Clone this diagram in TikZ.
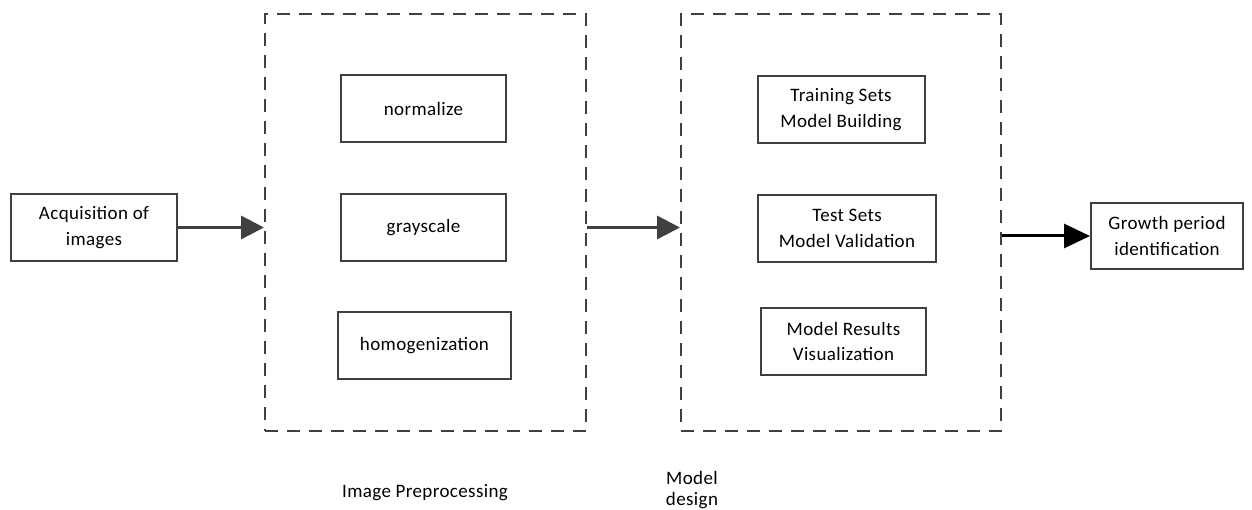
\documentclass[tikz,border=0pt]{standalone}
\usepackage{fontspec}
\setmainfont[LetterSpace=2]{Carlito}
\usetikzlibrary{arrows.meta}
\definecolor{lc}{HTML}{404040}
\begin{document}
\begin{tikzpicture}[x=1pt,y=-1pt,
  box/.style={draw=lc,line width=2pt,rectangle,align=center,inner sep=0pt,font=\fontsize{19}{25.5}\selectfont,text=black},
  group/.style={draw=lc,line width=2pt,dash pattern=on 13pt off 9pt,rectangle,inner sep=0pt},
  flow/.style={draw=lc,line width=3.5pt,-{Triangle[length=23pt,width=23pt]}},
  flowb/.style={draw=black,line width=3pt,-{Triangle[length=26pt,width=24pt]}},
  lab/.style={align=center,font=\fontsize{19}{21}\selectfont,text=black}]
\useasboundingbox (0,0) rectangle (1252,510);
\node[group,minimum width=321pt,minimum height=417pt] (d1) at (425.5,222.5) {};
\node[group,minimum width=320pt,minimum height=417pt] (d2) at (841,222.5) {};
\node[box,minimum width=166pt,minimum height=67pt] (acq) at (94,227.5) {Acquisition of\\images};
\node[box,minimum width=152pt,minimum height=66pt] (gr) at (1167,236) {Growth period\\identification};
\node[box,minimum width=165pt,minimum height=67pt] (n1) at (423.5,108.5) {normalize};
\node[box,minimum width=165pt,minimum height=67pt] (n2) at (423.5,227.5) {grayscale};
\node[box,minimum width=173pt,minimum height=67pt] (n3) at (424.5,345.5) {homogenization};
\node[box,minimum width=167pt,minimum height=67pt] (m1) at (841,109.5) {Training Sets\\Model Building};
\node[box,minimum width=178pt,minimum height=67pt] (m2) at (847,228.5) {Test Sets\\Model Validation};
\node[box,minimum width=165pt,minimum height=67pt] (m3) at (843.5,341.5) {Model Results\\Visualization};
\node[lab] (l1) at (425,493) {Image Preprocessing};
\node[lab] (l2) at (692,490) {Model\\design};
\draw[flow] (acq.east) -- (acq.east -| d1.west);
\draw[flow] (d1.east |- acq.east) -- (d2.west |- acq.east);
\draw[flowb] (d2.east |- gr.west) -- (gr.west);
\end{tikzpicture}
\end{document}
